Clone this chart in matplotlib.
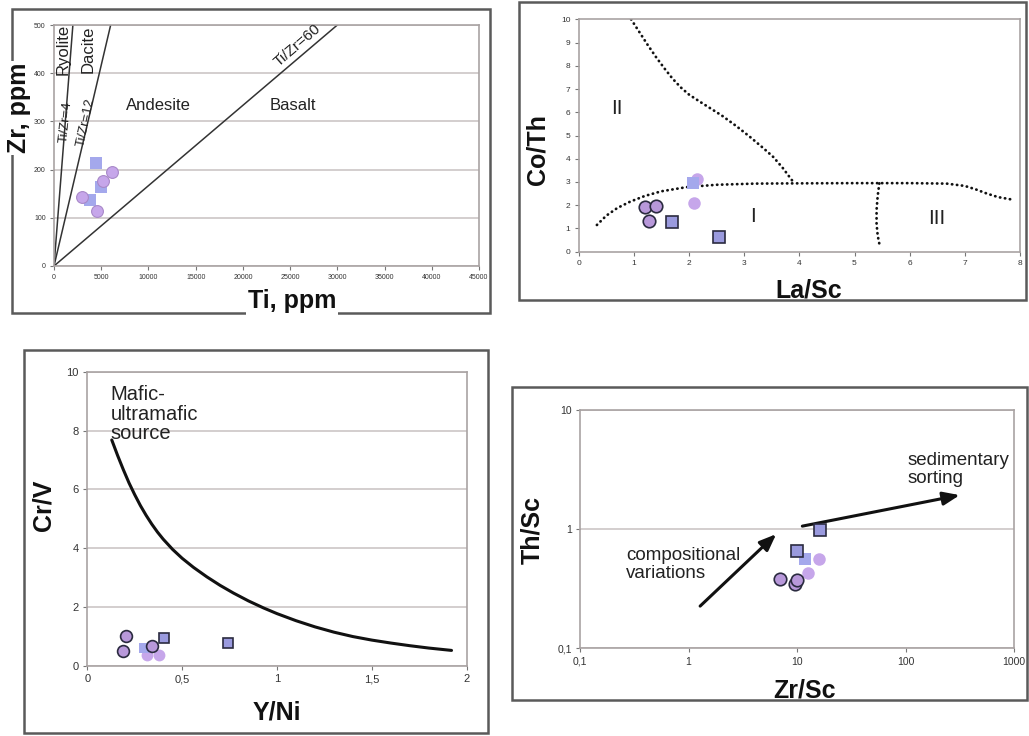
import matplotlib
matplotlib.use('Agg')
import matplotlib.pyplot as plt
from matplotlib.patches import Rectangle

plt.rcParams['font.family'] = ['Liberation Sans', 'DejaVu Sans']

# ---------------- data ----------------
# Panel 1: Ti vs Zr
p1_sq_ti = [4450, 5000, 3810]
p1_sq_zr = [214, 164, 137]
p1_ci_ti = [6110, 3000, 4520, 5150]
p1_ci_zr = [194, 143, 115, 176]
p1_ratios = [4, 12, 60]
p1_xticks = [0, 5000, 10000, 15000, 20000, 25000, 30000, 35000, 40000, 45000]
p1_yticks = [0, 100, 200, 300, 400, 500]

# Panel 2: La/Sc vs Co/Th
p2_ci_edge_x = [1.21, 1.40, 1.28]
p2_ci_edge_y = [1.94, 1.97, 1.33]
p2_sq_edge_x = [1.70, 2.55]
p2_sq_edge_y = [1.26, 0.65]
p2_ci_x = [2.14, 2.09]
p2_ci_y = [3.11, 2.08]
p2_sq_x = [2.08]
p2_sq_y = [2.94]
p2_curveA_x = [0.95, 1.1, 1.25, 1.4, 1.55, 1.7, 1.85, 2.0, 2.2, 2.4, 2.6, 2.86, 3.1, 3.35, 3.53, 3.7, 3.89]
p2_curveA_y = [10.0, 9.45, 8.9, 8.38, 7.9, 7.45, 7.07, 6.76, 6.45, 6.15, 5.85, 5.4, 4.95, 4.45, 4.07, 3.6, 3.0]
p2_curveB_x = [0.33, 0.5, 0.7, 0.93, 1.2, 1.5, 1.96, 2.5, 3.2, 3.89, 5.0, 6.0, 6.67, 7.0, 7.2, 7.39, 7.6, 7.84]
p2_curveB_y = [1.15, 1.55, 1.88, 2.15, 2.4, 2.6, 2.78, 2.88, 2.93, 2.94, 2.95, 2.95, 2.93, 2.83, 2.68, 2.51, 2.35, 2.25]
p2_curveC_x = [5.45, 5.42, 5.40, 5.40, 5.42, 5.46]
p2_curveC_y = [2.94, 2.4, 1.8, 1.2, 0.7, 0.22]
p2_xticks = [0, 1, 2, 3, 4, 5, 6, 7, 8]
p2_yticks = [0, 1, 2, 3, 4, 5, 6, 7, 8, 9, 10]

# Panel 3: Y/Ni vs Cr/V
p3_ci_edge_x = [0.186, 0.204, 0.34]
p3_ci_edge_y = [0.52, 1.02, 0.68]
p3_sq_edge_x = [0.406, 0.743]
p3_sq_edge_y = [0.94, 0.77]
p3_ci_x = [0.313, 0.38]
p3_ci_y = [0.37, 0.37]
p3_sq_x = [0.30]
p3_sq_y = [0.60]
p3_curve_x = [0.129, 0.16, 0.19, 0.22, 0.25, 0.28, 0.31, 0.34, 0.37, 0.40, 0.45, 0.50, 0.56,
              0.63, 0.70, 0.77, 0.85, 0.93, 1.0, 1.1, 1.2, 1.3, 1.4, 1.5, 1.6, 1.7, 1.8, 1.92]
p3_curve_y = [7.68, 7.15, 6.67, 6.22, 5.82, 5.45, 5.12, 4.82, 4.55, 4.31, 3.96, 3.66, 3.35,
              3.03, 2.74, 2.48, 2.21, 1.97, 1.78, 1.54, 1.33, 1.15, 1.00, 0.88, 0.78, 0.69, 0.61, 0.53]
p3_xticks = [0, 0.5, 1, 1.5, 2]
p3_xlabels = ['0', '0,5', '1', '1,5', '2']
p3_yticks = [0, 2, 4, 6, 8, 10]

# Panel 4: Zr/Sc vs Th/Sc (log-log)
p4_ci_edge_x = [7.03, 9.5, 9.9]
p4_ci_edge_y = [0.378, 0.345, 0.373]
p4_sq_edge_x = [16.2, 10.0]
p4_sq_edge_y = [0.99, 0.66]
p4_ci_x = [16.0, 12.5]
p4_ci_y = [0.557, 0.425]
p4_sq_x = [11.8]
p4_sq_y = [0.557]
p4_xticks = [0.1, 1, 10, 100, 1000]
p4_xlabels = ['0,1', '1', '10', '100', '1000']
p4_yticks = [0.1, 1, 10]
p4_ylabels = ['0,1', '1', '10']

# ---------------- styling ----------------
W, H = 1029, 736
fig = plt.figure(figsize=(W / 100, H / 100), dpi=100)

SQ = '#9a9ade'
SQ_L = '#a4a8ec'
CI = '#b898da'
CI_L = '#c6a6ea'
EDGE = '#2b2b40'
SPINE = '#a9a3a3'
GRID = '#ccc6c6'


def px_axes(x0, y0, x1, y1):
    return fig.add_axes([x0 / W, 1 - y1 / H, (x1 - x0) / W, (y1 - y0) / H])


def frame(x0, y0, x1, y1):
    fig.add_artist(Rectangle((x0 / W, 1 - y1 / H), (x1 - x0) / W, (y1 - y0) / H,
                             transform=fig.transFigure, fill=False,
                             ec='#5a5a5a', lw=1.8, zorder=0))


def style(ax, grid=True, fs=6):
    for s in ax.spines.values():
        s.set_color(SPINE)
        s.set_linewidth(1.2)
    ax.tick_params(color='#777777', length=3, width=0.8, labelcolor='#333333',
                   labelsize=fs, pad=3)
    ax.tick_params(which='minor', length=0)
    if grid:
        ax.yaxis.grid(True, color=GRID, lw=1.2)
    ax.set_axisbelow(True)


def figtext(x, y, s, **kw):
    fig.text(x / W, 1 - y / H, s, ha='center', va='center', **kw)


def markers(ax, ce, se, c, s, ms=8.5):
    ax.plot(c[0], c[1], 'o', ms=ms, mfc=CI_L, mec=CI_L, mew=0, zorder=3, clip_on=False)
    ax.plot(s[0], s[1], 's', ms=ms - 1, mfc=SQ_L, mec=SQ_L, mew=0, zorder=3, clip_on=False)
    ax.plot(ce[0], ce[1], 'o', ms=ms, mfc=CI, mec=EDGE, mew=1.2, zorder=4, clip_on=False)
    ax.plot(se[0], se[1], 's', ms=ms - 1, mfc=SQ, mec=EDGE, mew=1.2, zorder=4, clip_on=False)


frame(12, 9, 490, 313)
frame(519, 2, 1026, 300)
frame(24, 350, 488, 733)
frame(512, 387, 1027, 700)

# ---------------- panel 1 ----------------
ax1 = px_axes(54, 25, 479, 266)
style(ax1, fs=5)
ax1.set_xlim(0, 45000)
ax1.set_ylim(0, 500)
ax1.set_xticks(p1_xticks)
ax1.set_yticks(p1_yticks)
ax1.set_xticklabels([str(v) for v in p1_xticks])
ax1.set_yticklabels([str(v) for v in p1_yticks])
for r in p1_ratios:
    ax1.plot([0, 500 * r], [0, 500], color='#333333', lw=1.1, zorder=2)
ax1.plot(p1_sq_ti, p1_sq_zr, 's', ms=8, mfc=SQ_L, mec=SQ_L, mew=0, zorder=3)
ax1.plot(p1_ci_ti, p1_ci_zr, 'o', ms=8.5, mfc=CI_L, mec='#a888c8', mew=0.8, zorder=3)
ax1.text(953, 450, 'Ryolite', rotation=90, ha='center', va='center', fontsize=12, color='#222222')
ax1.text(3600, 450, 'Dacite', rotation=90, ha='center', va='center', fontsize=12, color='#222222')
ax1.text(1300, 299, 'Ti/Zr=4', rotation=84, ha='center', va='center', fontsize=9.5, color='#222222')
ax1.text(3350, 299, 'Ti/Zr=12', rotation=78, ha='center', va='center', fontsize=9.5, color='#222222')
ax1.text(25730, 458, 'Ti/Zr=60', rotation=41, ha='center', va='center', fontsize=11, color='#222222')
ax1.text(11100, 333, 'Andesite', ha='center', va='center', fontsize=12, color='#222222')
ax1.text(25300, 333, 'Basalt', ha='center', va='center', fontsize=12, color='#222222')
figtext(19, 108, 'Zr, ppm', rotation=90, fontsize=18, fontweight='bold', color='#111111',
        bbox=dict(fc='white', ec='none', pad=1))
figtext(292, 301, 'Ti, ppm', fontsize=18, fontweight='bold', color='#111111',
        bbox=dict(fc='white', ec='none', pad=1))

# ---------------- panel 2 ----------------
ax2 = px_axes(578.7, 19.3, 1020, 251.7)
style(ax2, grid=False, fs=6)
ax2.set_xlim(0, 8)
ax2.set_ylim(0, 10)
ax2.set_xticks(p2_xticks)
ax2.set_yticks(p2_yticks)
dot = dict(color='#111111', lw=2.0, ls=(0, (0.1, 1.7)), dash_capstyle='round', zorder=2)
ax2.plot(p2_curveA_x, p2_curveA_y, **dot)
ax2.plot(p2_curveB_x, p2_curveB_y, **dot)
ax2.plot(p2_curveC_x, p2_curveC_y, **dot)
markers(ax2, (p2_ci_edge_x, p2_ci_edge_y), (p2_sq_edge_x, p2_sq_edge_y),
        (p2_ci_x, p2_ci_y), (p2_sq_x, p2_sq_y), ms=9)
ax2.text(0.69, 6.17, 'II', ha='center', va='center', fontsize=15, color='#222222')
ax2.text(3.16, 1.5, 'I', ha='center', va='center', fontsize=15, color='#222222')
ax2.text(6.49, 1.44, 'III', ha='center', va='center', fontsize=15, color='#222222')
figtext(538, 150, 'Co/Th', rotation=90, fontsize=18, fontweight='bold', color='#111111')
figtext(809, 290, 'La/Sc', fontsize=18, fontweight='bold', color='#111111')

# ---------------- panel 3 ----------------
ax3 = px_axes(87.3, 371.7, 466.7, 666)
style(ax3, fs=8)
ax3.set_xlim(0, 2)
ax3.set_ylim(0, 10)
ax3.set_xticks(p3_xticks)
ax3.set_xticklabels(p3_xlabels)
ax3.set_yticks(p3_yticks)
ax3.plot(p3_curve_x, p3_curve_y, color='#111111', lw=2.2, zorder=2,
         solid_capstyle='round', solid_joinstyle='round')
markers(ax3, (p3_ci_edge_x, p3_ci_edge_y), (p3_sq_edge_x, p3_sq_edge_y),
        (p3_ci_x, p3_ci_y), (p3_sq_x, p3_sq_y), ms=8.5)
ax3.text(0.123, 9.55, 'Mafic-\nultramafic\nsource', ha='left', va='top', fontsize=14.5,
         linespacing=1.05, color='#222222')
figtext(44, 505, 'Cr/V', rotation=90, fontsize=18, fontweight='bold', color='#111111')
figtext(277, 712, 'Y/Ni', fontsize=18, fontweight='bold', color='#111111')

# ---------------- panel 4 ----------------
ax4 = px_axes(580, 410, 1014, 648.3)
ax4.set_xscale('log')
ax4.set_yscale('log')
style(ax4, fs=7.5)
ax4.set_xlim(0.1, 1000)
ax4.set_ylim(0.1, 10)
ax4.set_xticks(p4_xticks)
ax4.set_xticklabels(p4_xlabels)
ax4.set_yticks(p4_yticks)
ax4.set_yticklabels(p4_ylabels)
ax4.minorticks_off()
markers(ax4, (p4_ci_edge_x, p4_ci_edge_y), (p4_sq_edge_x, p4_sq_edge_y),
        (p4_ci_x, p4_ci_y), (p4_sq_x, p4_sq_y), ms=9)
arrow = dict(arrowstyle='-|>,head_length=1.0,head_width=0.4', color='#111111', lw=2.2,
             shrinkA=0, shrinkB=0)
ax4.annotate('', xy=(6.43, 0.908), xytext=(1.28, 0.226), arrowprops=arrow)
ax4.annotate('', xy=(316, 1.93), xytext=(11.2, 1.06), arrowprops=arrow)
ax4.text(0.267, 0.71, 'compositional\nvariations', ha='left', va='top', fontsize=13.5,
         linespacing=1.05, color='#222222')
ax4.text(105, 4.4, 'sedimentary\nsorting', ha='left', va='top', fontsize=13.5,
         linespacing=1.05, color='#222222')
figtext(532, 530, 'Th/Sc', rotation=90, fontsize=18, fontweight='bold', color='#111111')
figtext(805, 690, 'Zr/Sc', fontsize=18, fontweight='bold', color='#111111')

fig.savefig('out.png', dpi=100, facecolor='white')
